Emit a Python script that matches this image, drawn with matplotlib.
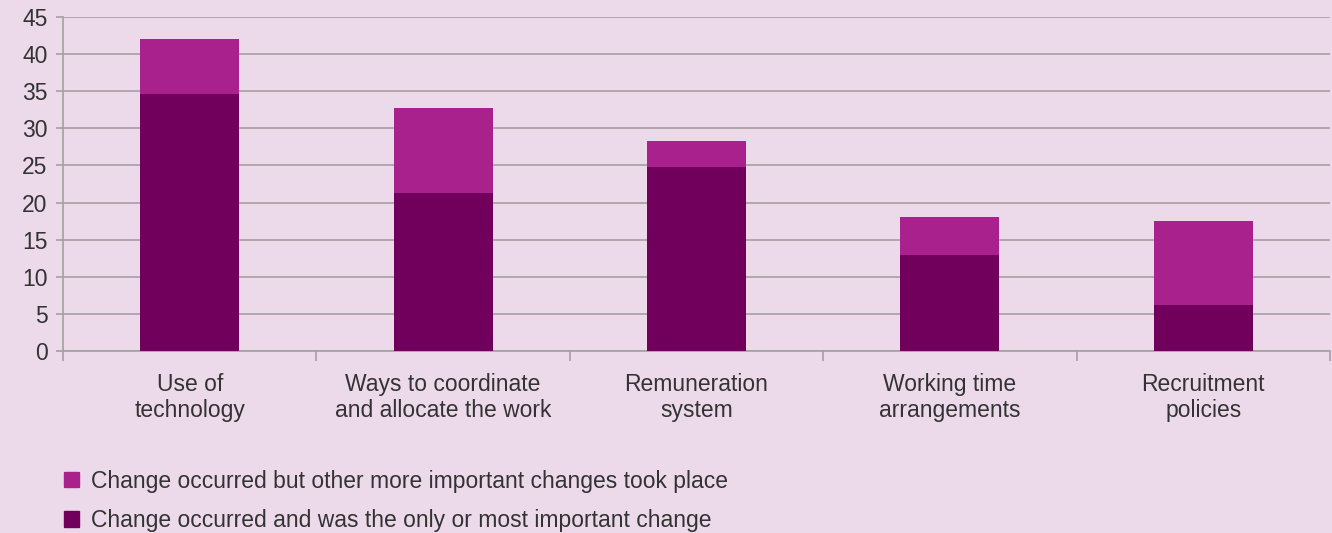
import numpy as np
import matplotlib.pyplot as plt
from matplotlib.patches import Patch

# Dados
categorias = ['Use of\ntechnology', 'Ways to coordinate\nand allocate the work',
              'Remuneration\nsystem', 'Working time\narrangements', 'Recruitment\npolicies']
mais_importante = [34.6, 21.3, 24.8, 13.0, 6.2]
outras_mudancas = [7.4, 11.4, 3.5, 5.0, 11.3]

legenda_outras = 'Change occurred but other more important changes took place'
legenda_principal = 'Change occurred and was the only or most important change'

# Cores
fundo = '#ecdaea'
cor_escura = '#71005c'
cor_clara = '#a8218c'
cor_grade = '#a3a0a3'
cor_texto = '#333333'

plt.rcParams['font.family'] = ['Liberation Sans', 'DejaVu Sans']
tam = 16.5

fig = plt.figure(figsize=(13.32, 5.33), dpi=100, facecolor=fundo)
ax = fig.add_axes([63 / 1332, 1 - 351 / 533, 1267 / 1332, 334 / 533], facecolor=fundo)

x = np.arange(len(categorias))
ax.bar(x, mais_importante, width=0.39, color=cor_escura, zorder=3)
ax.bar(x, outras_mudancas, width=0.39, bottom=mais_importante, color=cor_clara, zorder=3)

ax.set_xlim(-0.5, len(categorias) - 0.5)
ax.set_ylim(0, 45)
ax.set_yticks(range(0, 46, 5))
ax.yaxis.grid(True, color=cor_grade, linewidth=1.2, zorder=0)
ax.tick_params(axis='y', length=5, width=1.2, color=cor_grade, labelsize=tam,
               labelcolor=cor_texto, pad=6)

# marcas entre categorias no eixo x
ax.set_xticks(np.arange(-0.5, len(categorias), 1.0))
ax.set_xticklabels([])
ax.set_xticks(x, minor=True)
ax.set_xticklabels(categorias, minor=True)
ax.tick_params(axis='x', which='major', length=7, width=1.2, color=cor_grade)
ax.tick_params(axis='x', which='minor', length=0, labelsize=tam,
               labelcolor=cor_texto, pad=16)
for lbl in ax.get_xticklabels(minor=True):
    lbl.set_linespacing(1.15)

for lado in ['top', 'right']:
    ax.spines[lado].set_visible(False)
for lado in ['left', 'bottom']:
    ax.spines[lado].set_color(cor_grade)
    ax.spines[lado].set_linewidth(1.2)

handles = [Patch(color=cor_clara, label=legenda_outras),
           Patch(color=cor_escura, label=legenda_principal)]
fig.legend(handles=handles, loc='upper left', bbox_to_anchor=(43 / 1332, 1 - 449 / 533),
           frameon=False, fontsize=tam, labelcolor=cor_texto, handlelength=0.65,
           handleheight=0.65, handletextpad=0.55, labelspacing=0.72)

fig.savefig('out.png', dpi=100, facecolor=fundo)
